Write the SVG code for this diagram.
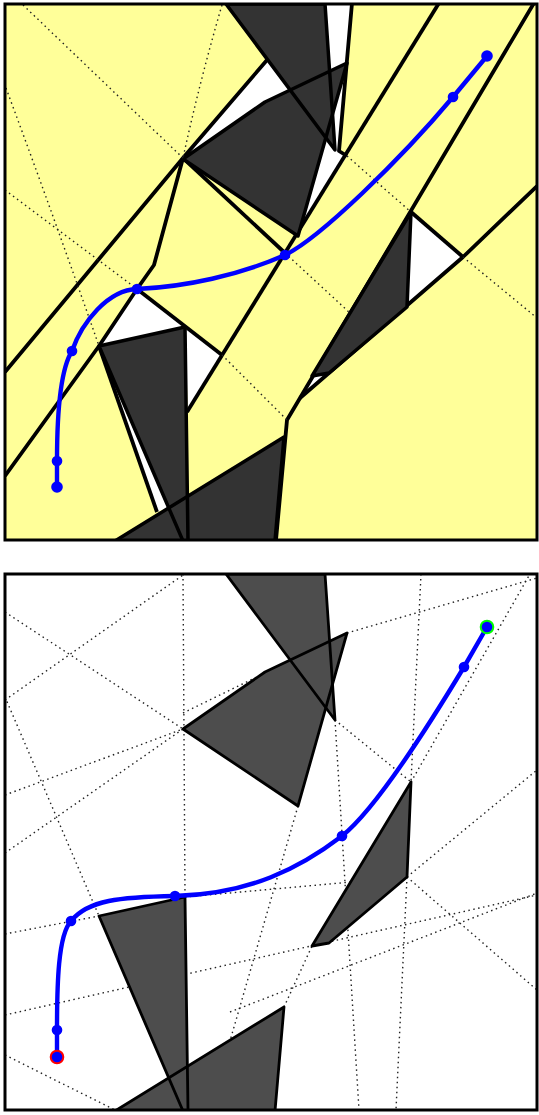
<svg xmlns="http://www.w3.org/2000/svg" width="539" height="1115" viewBox="0 0 539 1115">
<defs>
<style>
.frame{fill:none;stroke:#000;stroke-width:3}
.cell{fill:#ffff99}
.gap{fill:#fff}
.edge{fill:none;stroke:#000;stroke-width:3.8;stroke-linejoin:round}
.of1{fill:#333;stroke:none}
.of2{fill:#4d4d4d;stroke:none}
.ol1{fill:none;stroke:#000;stroke-width:3.5;stroke-linejoin:round}
.ol2{fill:none;stroke:#000;stroke-width:2.8;stroke-linejoin:round}
.dot{fill:none;stroke:#222;stroke-width:1.4;stroke-dasharray:1.5 3.5}
.path{fill:none;stroke:#0000ff;stroke-width:4.4}
.wp{fill:#0000ff}
</style>
<clipPath id="c1"><rect x="5" y="4" width="532" height="536"/></clipPath>
<clipPath id="c2"><rect x="5" y="574" width="532" height="536"/></clipPath>
</defs>
<rect width="539" height="1115" fill="#fff"/>

<g id="top-panel" clip-path="url(#c1)">
  <rect x="5" y="4" width="532" height="536" class="cell"/>
  <g id="top-gaps" class="gap">
    <polygon points="326,3 352,3 339,151 347,156 285,253 297,234 320,100"/>
    <polygon points="183,158 267,60 300,95 266,102"/>
    <polygon points="137,289 99,346 185,327 188,412 222,355"/>
    <polygon points="99,346 157,512 169,507"/>
    <polygon points="411,212 463,257 407,306"/>
    <polygon points="312,376 330,372 300,397"/>
  </g>
  <g id="top-cell-edges" class="edge">
    <path d="M5,372 L183,158 L267,60"/>
    <path d="M5,476 L99,346 L137,289 L154,265 L183,158"/>
    <path d="M183,158 L285,253"/>
    <path d="M137,289 L222,355"/>
    <path d="M439,3 L187,412"/>
    <path d="M534,3 L287,420 L276,540"/>
    <path d="M537,186 L463,257 L300,398"/>
    <path d="M463,257 L411,212"/>
    <path d="M352,3 L339,151 L347,156"/>
    <path d="M99,346 L157,512"/>
  </g>
  <g id="top-obstacles">
    <g id="top-obstacle-a"><polygon class="of1" points="226,4 325,4 335,150"/></g>
    <g id="top-obstacle-b"><polygon class="of1" points="183,159 265,102 347,63 298,236"/></g>
    <g id="top-obstacle-c"><polygon class="of1" points="411,212 407,307 329,373 312,376"/></g>
    <g id="top-obstacle-d"><polygon class="of1" points="99,346 185,327 188,541 183,541"/></g>
    <g id="top-obstacle-e"><polygon class="of1" points="115,541 284,437 275,541"/></g>
    <polygon class="ol1" points="226,4 325,4 335,150"/>
    <polygon class="ol1" points="183,159 265,102 347,63 298,236"/>
    <polygon class="ol1" points="411,212 407,307 329,373 312,376"/>
    <polygon class="ol1" points="99,346 185,327 188,541 183,541"/>
    <polygon class="ol1" points="115,541 284,437 275,541"/>
  </g>
  <g id="top-connectors" class="dot">
    <path d="M23,5 L183,158"/>
    <path d="M222,5 Q200,80 183,158"/>
    <path d="M6,88 Q55,220 99,346"/>
    <path d="M5,190 L137,289"/>
    <path d="M347,156 L411,212"/>
    <path d="M285,253 L350,313"/>
    <path d="M222,355 L287,420"/>
    <path d="M463,257 L537,318"/>
  </g>
  <g id="top-route">
    <path class="path" d="M57,487 L57,461 C57,420 60,370 72,351 C82,322 108,290 137,289 C185,287 240,275 285,255 C320,238 400,160 453,97 L487,56"/>
    <g class="wp">
      <circle cx="57" cy="487" r="5.8"/>
      <circle cx="57" cy="461" r="5.3"/>
      <circle cx="72" cy="351" r="5.3"/>
      <circle cx="137" cy="289" r="5.3"/>
      <circle cx="285" cy="255" r="5.3"/>
      <circle cx="453" cy="97" r="5.3"/>
      <circle cx="487" cy="56" r="5.8"/>
    </g>
  </g>
</g>
<rect class="frame" x="5" y="4" width="532" height="536"/>

<g id="bottom-panel" clip-path="url(#c2)">
  <g id="bottom-connectors" class="dot">
    <path d="M183,574 L185,897"/>
    <path d="M5,612 L183,729"/>
    <path d="M5,700 L183,575"/>
    <path d="M5,795 L183,729"/>
    <path d="M5,853 L183,729"/>
    <path d="M5,697 L99,916"/>
    <path d="M183,713 L347,633"/>
    <path d="M347,633 L537,578"/>
    <path d="M335,720 L359,1110"/>
    <path d="M407,877 L396,1110"/>
    <path d="M5,1055 L115,1110"/>
    <path d="M5,1015 L537,895"/>
    <path d="M5,934 L99,916"/>
    <path d="M298,806 L210,1110"/>
    <path d="M421,574 L411,782"/>
    <path d="M411,782 L530,574"/>
    <path d="M407,877 L537,990"/>
    <path d="M230,1012 L537,893"/>
    <path d="M284,1007 L312,946"/>
    <path d="M185,897 L407,877"/>
    <path d="M407,877 L537,770"/>
    <path d="M335,720 L411,782"/>
  </g>
  <g id="bottom-obstacles">
    <g id="bottom-obstacle-a"><polygon class="of2" points="226,574 325,574 335,720"/></g>
    <g id="bottom-obstacle-b"><polygon class="of2" points="183,729 265,672 347,633 298,806"/></g>
    <g id="bottom-obstacle-c"><polygon class="of2" points="411,782 407,877 329,943 312,946"/></g>
    <g id="bottom-obstacle-d"><polygon class="of2" points="99,916 185,897 188,1111 183,1111"/></g>
    <g id="bottom-obstacle-e"><polygon class="of2" points="115,1111 284,1007 275,1111"/></g>
    <polygon class="ol2" points="226,574 325,574 335,720"/>
    <polygon class="ol2" points="183,729 265,672 347,633 298,806"/>
    <polygon class="ol2" points="411,782 407,877 329,943 312,946"/>
    <polygon class="ol2" points="99,916 185,897 188,1111 183,1111"/>
    <polygon class="ol2" points="115,1111 284,1007 275,1111"/>
  </g>
  <g id="bottom-route">
    <path class="path" d="M57,1057 L57,1030 C57,985 58,935 71,921 C88,900 120,897 175,896 C250,894 300,868 342,836 C372,812 420,740 464,667 L487,627"/>
    <g class="wp">
      <circle cx="57" cy="1030" r="5.3"/>
      <circle cx="71" cy="921" r="5.3"/>
      <circle cx="175" cy="896" r="5.3"/>
      <circle cx="342" cy="836" r="5.3"/>
      <circle cx="464" cy="667" r="5.3"/>
    </g>
    <circle id="start" cx="57" cy="1057" r="6.3" fill="#0000ff" stroke="#ff0000" stroke-width="2"/>
    <circle id="goal" cx="487" cy="627" r="6.3" fill="#0000ff" stroke="#00ff00" stroke-width="2"/>
  </g>
</g>
<rect class="frame" x="5" y="574" width="532" height="536"/>
</svg>
